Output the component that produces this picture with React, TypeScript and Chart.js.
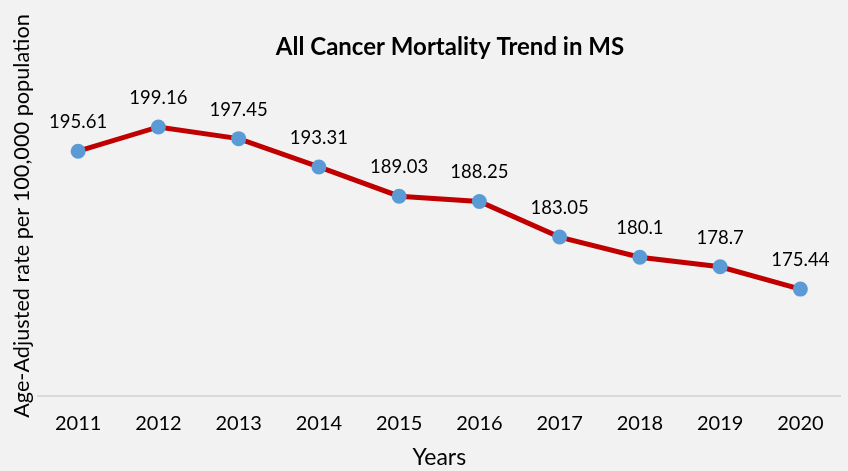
import React, { useEffect, useRef } from "react";
import { Chart, registerables } from "chart.js";

Chart.register(...registerables);

const years = ["2011", "2012", "2013", "2014", "2015", "2016", "2017", "2018", "2019", "2020"];
const rates = [195.61, 199.16, 197.45, 193.31, 189.03, 188.25, 183.05, 180.1, 178.7, 175.44];
const rateLabels = ["195.61", "199.16", "197.45", "193.31", "189.03", "188.25", "183.05", "180.1", "178.7", "175.44"];
const chartTitle = "All Cancer Mortality Trend in MS";
const yTitle = "Age-Adjusted rate per 100,000 population";
const xTitle = "Years";

const bgPlugin = {
  id: "bg",
  beforeDraw(chart: any) {
    const { ctx, width, height } = chart;
    ctx.save();
    ctx.fillStyle = "#f2f2f2";
    ctx.fillRect(0, 0, width, height);
    ctx.restore();
  },
};

const textPlugin = {
  id: "texts",
  afterDatasetsDraw(chart: any) {
    const { ctx } = chart;
    const meta = chart.getDatasetMeta(0);
    ctx.save();
    ctx.fillStyle = "#000000";
    ctx.textAlign = "center";
    ctx.textBaseline = "middle";
    ctx.font = "18.5px Lato";
    meta.data.forEach((pt: any, i: number) => {
      ctx.fillText(rateLabels[i], pt.x, pt.y - 29);
    });
    // chart title
    ctx.font = "bold 24px Lato";
    ctx.fillText(chartTitle, 450, 47);
    // y axis title
    ctx.translate(22, 216);
    ctx.rotate(-Math.PI / 2);
    ctx.font = "21.7px Lato";
    ctx.fillText(yTitle, 0, 0);
    ctx.restore();
  },
};

export default function App() {
  const ref = useRef<HTMLCanvasElement>(null);
  useEffect(() => {
    document.body.style.margin = "0";
    document.body.style.background = "#f2f2f2";
    const chart = new Chart(ref.current!, {
      type: "line",
      data: {
        labels: years,
        datasets: [
          {
            data: rates,
            borderColor: "#c00000",
            borderWidth: 5,
            backgroundColor: "#5b9bd5",
            pointBackgroundColor: "#5b9bd5",
            pointBorderWidth: 0,
            pointRadius: 7.5,
            tension: 0,
          },
        ],
      },
      options: {
        animation: false,
        responsive: true,
        maintainAspectRatio: false,
        layout: { padding: { left: 0, right: 5, top: 59, bottom: 0 } },
        plugins: {
          legend: { display: false },
          tooltip: { enabled: false },
          title: { display: false },
        },
        scales: {
          x: {
            offset: true,
            grid: { display: false, drawTicks: false },
            border: { display: true, color: "#d9d9d9", width: 2 },
            ticks: { color: "#000000", font: { family: "Lato", size: 20 }, padding: 16 },
            title: {
              display: true,
              text: xTitle,
              color: "#000000",
              font: { family: "Lato", size: 23 },
              padding: { top: 6, bottom: 0 },
            },
            afterFit(scale: any) {
              scale.height = 75;
            },
          },
          y: {
            min: 159.8,
            max: 209.1,
            grid: { display: false, drawTicks: false },
            border: { display: false },
            ticks: { display: false },
            afterFit(scale: any) {
              scale.width = 38;
            },
          },
        },
      },
      plugins: [bgPlugin, textPlugin],
    });
    return () => chart.destroy();
  }, []);
  return (
    <div style={{ position: "relative", width: 848, height: 471 }}>
      <canvas ref={ref} />
    </div>
  );
}
